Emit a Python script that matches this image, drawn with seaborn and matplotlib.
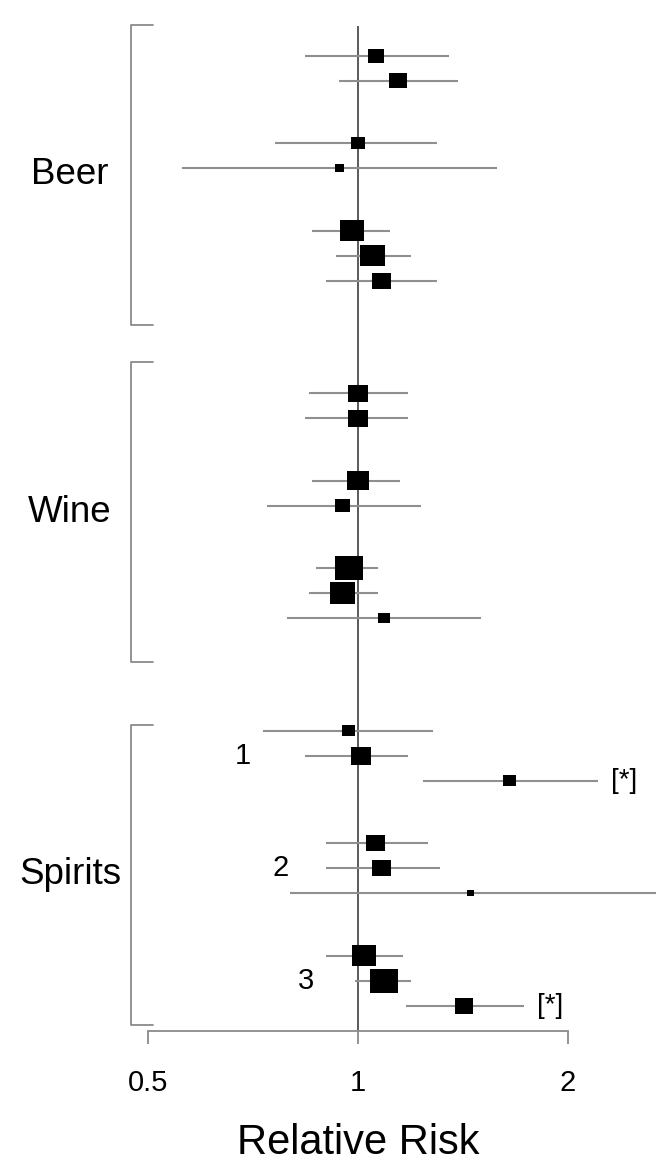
"""
Forest plot: relative risk by beverage type
"""

import numpy as np
import pandas as pd
import matplotlib
matplotlib.use('Agg')
import matplotlib.pyplot as plt
import matplotlib.transforms as mtransforms
import seaborn as sns

# ---- data ----
beverage = ['Beer'] * 7 + ['Wine'] * 7 + ['Spirits'] * 9
subgroup = [1, 1, 2, 2, 3, 3, 3,
            1, 1, 2, 2, 3, 3, 3,
            1, 1, 1, 2, 2, 2, 3, 3, 3]

rr = [1.06, 1.14, 1.00, 0.94, 0.98, 1.05, 1.08,
      1.00, 1.00, 1.00, 0.95, 0.97, 0.95, 1.09,
      0.97, 1.01, 1.65, 1.06, 1.08, 1.45, 1.02, 1.09, 1.42]
lower = [0.84, 0.94, 0.76, 0.56, 0.86, 0.93, 0.90,
         0.85, 0.84, 0.86, 0.74, 0.87, 0.85, 0.79,
         0.73, 0.84, 1.24, 0.90, 0.90, 0.80, 0.90, 0.99, 1.17]
upper = [1.35, 1.39, 1.30, 1.58, 1.11, 1.19, 1.30,
         1.18, 1.18, 1.15, 1.23, 1.07, 1.07, 1.50,
         1.28, 1.18, 2.21, 1.26, 1.31, 2.67, 1.16, 1.19, 1.73]
# relative study weight (box area)
weight = [2.5, 3.2, 2.0, 0.8, 5.9, 6.1, 3.6,
          4.1, 4.0, 4.8, 2.3, 7.7, 6.4, 1.5,
          1.8, 4.2, 1.8, 3.7, 3.6, 0.55, 6.0, 7.8, 3.3]
flag = [''] * 16 + ['[*]'] + [''] * 5 + ['[*]']

group_order = ['Beer', 'Wine', 'Spirits']
numbered_group = 'Spirits'
x_ticks = [0.5, 1, 2]
x_ticklabels = ['0.5', '1', '2']

# ---- layout ----
rows = []
r = 0.0
prev = None
for g, s in zip(beverage, subgroup):
    if prev is not None:
        if g != prev[0]:
            r += 4.5
        elif s != prev[1]:
            r += 2.5
        else:
            r += 1
    rows.append(r)
    prev = (g, s)

df = pd.DataFrame({'beverage': beverage, 'subgroup': subgroup, 'rr': rr,
                   'lower': lower, 'upper': upper, 'weight': weight,
                   'flag': flag, 'row': rows})

sns.set_style('white')
plt.rcParams['font.family'] = ['Liberation Sans', 'DejaVu Sans']
plt.rcParams['text.color'] = 'black'
plt.rcParams['axes.labelcolor'] = 'black'
plt.rcParams['xtick.labelcolor'] = 'black'

fig = plt.figure(figsize=(6.72, 11.71), dpi=100)
ax = fig.add_axes([0, 0, 1, 1])
ax.set_xscale('log')
ax.set_xlim(0.3069, 2.819)
ax.set_ylim(44.61, -2.23)

axis_row = df['row'].max() + 1

# reference line at RR = 1
ax.vlines(1, -1.2, axis_row, color='#5a5a5a', lw=1.4, zorder=1)

# confidence intervals
ax.hlines(df['row'], df['lower'], df['upper'], color='#8f8f8f', lw=1.5, zorder=2)

# boxes (slightly wide rectangles), area proportional to weight
box = [(-0.585, -0.5), (0.585, -0.5), (0.585, 0.5), (-0.585, 0.5), (-0.585, -0.5)]
wmax = df['weight'].max()
sns.scatterplot(data=df, x='rr', y='row', size='weight',
                sizes=(0, 51.84 * wmax), size_norm=(0, wmax),
                marker=box, color='black', linewidth=0,
                legend=False, ax=ax, zorder=3)

# significance flags
for _, row in df[df['flag'] != ''].iterrows():
    ax.annotate(row['flag'], (row['upper'], row['row']), xytext=(9, 0),
                textcoords='offset points', ha='left', va='center',
                fontsize=20)

# group brackets and labels
trans = mtransforms.blended_transform_factory(ax.transAxes, ax.transData)
for g in group_order:
    sub = df[df['beverage'] == g]
    mid = (sub['row'].min() + sub['row'].max()) / 2 + 0.25
    top, bot = mid - 6.0, mid + 6.0
    ax.plot([0.228, 0.195, 0.195, 0.228], [top, top, bot, bot],
            color='#8a8a8a', lw=1.3, transform=trans, clip_on=False)
    ax.text(0.104, mid, g, transform=trans, ha='center', va='center',
            fontsize=26.5)

# subgroup numbers for spirits
num_x = [0.361, 0.418, 0.455]
sub = df[df['beverage'] == numbered_group]
for xi, (s, grp) in zip(num_x, sub.groupby('subgroup')):
    ax.text(xi, grp['row'].mean(), str(s), transform=trans,
            ha='center', va='center', fontsize=21)

# x axis
for side in ['top', 'right', 'left']:
    ax.spines[side].set_visible(False)
ax.spines['bottom'].set_position(('data', axis_row))
ax.spines['bottom'].set_bounds(0.5, 2)
ax.spines['bottom'].set_color('#8a8a8a')
ax.spines['bottom'].set_linewidth(1.3)
ax.set_xticks(x_ticks)
ax.set_xticklabels(x_ticklabels)
ax.xaxis.set_minor_locator(matplotlib.ticker.NullLocator())
ax.tick_params(axis='x', bottom=True, direction='out', length=9.4, width=1.3,
               color='#8a8a8a', labelcolor='black', labelsize=21, pad=18)
ax.set_yticks([])
ax.set_ylabel('')
ax.set_xlabel('Relative Risk', fontsize=30, va='center', color='black')
ax.xaxis.set_label_coords(358 / 672, 1 - 1143 / 1171)

fig.savefig('out.png', dpi=100)
plt.close()
